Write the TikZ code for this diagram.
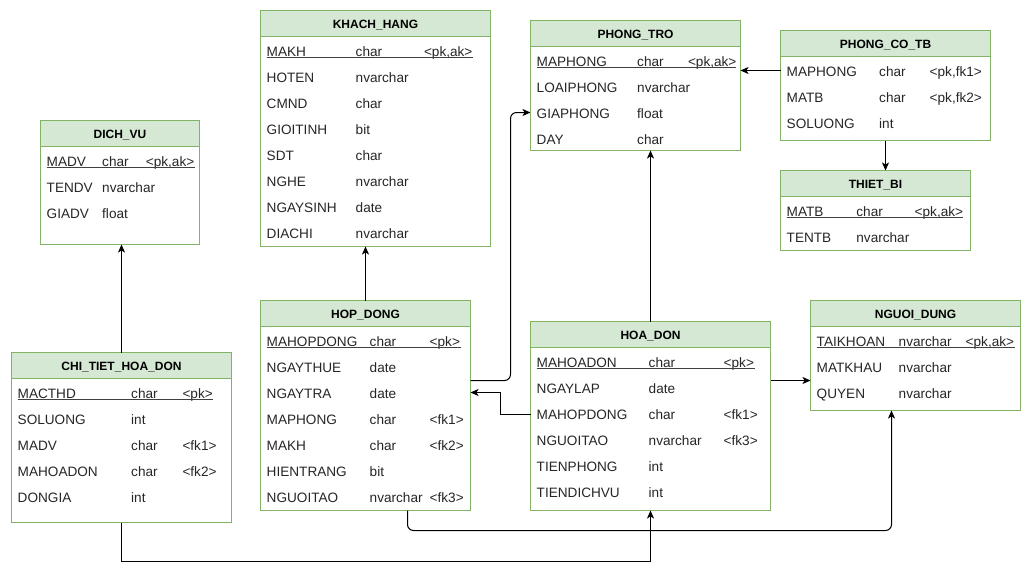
\documentclass[tikz,border=0pt]{standalone}
\usepackage{fontspec}
\setmainfont{Liberation Sans}
\usetikzlibrary{calc,arrows.meta}

\definecolor{tgreen}{HTML}{82B366}
\definecolor{hgreen}{HTML}{D5E8D4}
\definecolor{ftext}{HTML}{262626}

\tikzset{
  tbox/.style={draw=tgreen, fill=white, line width=1pt, inner sep=0pt, outer sep=0pt, anchor=north west},
  hdr/.style={fill=hgreen, draw=tgreen, line width=1pt},
  ttl/.style={font=\bfseries\fontsize{12}{14}\selectfont, inner sep=0pt, anchor=base, text=black},
  fld/.style={font=\fontsize{13.6}{16}\selectfont, inner sep=0pt, anchor=base west, text=ftext},
  uline/.style={draw=black!75, line width=0.9pt},
  conn/.style={draw=black, line width=1pt},
  arr/.style={conn, -{Stealth[length=8pt,width=7pt,inset=2pt]}},
}

% #1 name, #2 top-left corner, #3 width, #4 height, #5 title,
% #6 type column offset, #7 key column offset, #8 underline length (0 = none), #9 rows
\newcommand\ertable[9]{%
  \node[tbox, minimum width=#3pt, minimum height=#4pt] (#1) at (#2) {};
  \draw[hdr] (#1.north west) rectangle ([yshift=-26pt]#1.north east);
  \node[ttl] (#1-title) at ([yshift=-18.4pt]#1.north) {#5};
  \foreach \a/\b/\c [count=\i from 0] in {#9} {
    \node[fld] (#1-n\i) at ($(#1.north west)+(6,45.6+26*\i)$) {\a};
    \node[fld] (#1-t\i) at ($(#1.north west)+(#6,45.6+26*\i)$) {\b};
    \node[fld] (#1-k\i) at ($(#1.north west)+(#7,45.6+26*\i)$) {\c};
  }
  \ifdim #8pt>0pt
    \draw[uline] ($(#1.north west)+(6,47.2)$) -- ++(#8,0);
  \fi
}

\begin{document}
\begin{tikzpicture}[x=1pt,y=-1pt]
\useasboundingbox[fill=white] (0,0) rectangle (1031,571);

% tables
\ertable{dichvu}{40.5,120.5}{159}{124}{DICH\_VU}{61.5}{105.2}{148.7}
  {MADV/char/{<pk,ak>}, TENDV/nvarchar/{}, GIADV/float/{}}
\ertable{khach}{260.5,10.5}{230}{236}{KHACH\_HANG}{95}{163.3}{206}
  {MAKH/char/{<pk,ak>}, HOTEN/nvarchar/{}, CMND/char/{}, GIOITINH/bit/{},
   SDT/char/{}, NGHE/nvarchar/{}, NGAYSINH/date/{}, DIACHI/nvarchar/{}}
\ertable{phongtro}{530.5,20.5}{210}{130}{PHONG\_TRO}{106.5}{157.3}{199.7}
  {MAPHONG/char/{<pk,ak>}, LOAIPHONG/nvarchar/{}, GIAPHONG/float/{}, DAY/char/{}}
\ertable{phongco}{780.5,30.5}{210}{110}{PHONG\_CO\_TB}{98.5}{149}{0}
  {MAPHONG/char/{<pk,fk1>}, MATB/char/{<pk,fk2>}, SOLUONG/int/{}}
\ertable{thietbi}{780.5,170.5}{190}{80}{THIET\_BI}{75.7}{134}{176.7}
  {MATB/char/{<pk,ak>}, TENTB/nvarchar/{}}
\ertable{nguoidung}{810.5,300.5}{210}{110}{NGUOI\_DUNG}{88}{155}{198}
  {TAIKHOAN/nvarchar/{<pk,ak>}, MATKHAU/nvarchar/{}, QUYEN/nvarchar/{}}
\ertable{hoadon}{530.5,321.5}{240}{189}{HOA\_DON}{118}{193}{218.8}
  {MAHOADON/char/{<pk>}, NGAYLAP/date/{}, MAHOPDONG/char/{<fk1>},
   NGUOITAO/nvarchar/{<fk3>}, TIENPHONG/int/{}, TIENDICHVU/int/{}}
\ertable{hopdong}{260.5,300.5}{210}{210}{HOP\_DONG}{109}{169}{194.7}
  {MAHOPDONG/char/{<pk>}, NGAYTHUE/date/{}, NGAYTRA/date/{}, MAPHONG/char/{<fk1>},
   MAKH/char/{<fk2>}, HIENTRANG/bit/{}, NGUOITAO/nvarchar/{<fk3>}}
\ertable{chitiet}{11.5,352.5}{220}{170}{CHI\_TIET\_HOA\_DON}{119.5}{170.8}{195.2}
  {MACTHD/char/{<pk>}, SOLUONG/int/{}, MADV/char/{<fk1>}, MAHOADON/char/{<fk2>}, DONGIA/int/{}}

% connector end points
\coordinate (hd-out)  at ($(hopdong.north east)+(0,80)$);
\coordinate (pt-in)   at ($(phongtro.north west)+(0,92)$);
\coordinate (ho-out)  at ($(hoadon.north west)+(0,93)$);
\coordinate (hd-in)   at ($(hopdong.north east)+(0,92)$);
\coordinate (pc-out)  at ($(phongco.north west)+(0,40)$);
\coordinate (ho-east) at ($(hoadon.north east)+(0,59)$);
\coordinate (hd-bot)  at ($(hopdong.south west)+(147,0)$);
\coordinate (nd-bot)  at ($(nguoidung.south west)+(81,0)$);

% relationships
\draw[arr] (chitiet.north) -- (chitiet.north |- dichvu.south);
\draw[arr] (hopdong.north) -- (hopdong.north |- khach.south);
\draw[arr, rounded corners=6pt] (hd-out) -- ++(40,0) |- (pt-in);
\draw[arr] (ho-out) -- ++(-30,0) |- (hd-in);
\draw[arr] (pc-out) -- (pc-out -| phongtro.east);
\draw[arr] (phongco.south) -- (phongco.south |- thietbi.north);
\draw[arr] (hoadon.north) -- (hoadon.north |- phongtro.south);
\draw[arr] (ho-east) -- (ho-east -| nguoidung.west);
\draw[arr, rounded corners=6pt] (hd-bot) -- ++(0,20) -| (nd-bot);
\draw[arr] (chitiet.south) -- ++(0,39) -| (hoadon.south);
\end{tikzpicture}
\end{document}
